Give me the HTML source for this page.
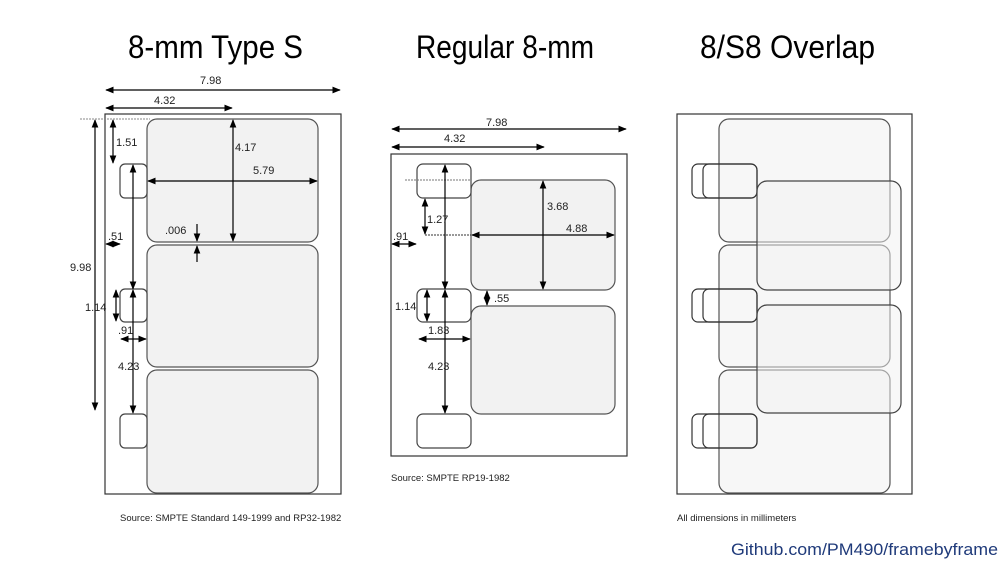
<!DOCTYPE html>
<html><head><meta charset="utf-8"><style>
html,body{margin:0;padding:0;background:#fff;}
svg{display:block;font-family:"Liberation Sans",sans-serif;}
</style></head><body>
<svg width="1000" height="562" viewBox="0 0 1000 562" xmlns="http://www.w3.org/2000/svg">
<defs>
<marker id="a" viewBox="0 0 10 10" refX="9" refY="5" markerWidth="7" markerHeight="7" orient="auto-start-reverse"><path d="M0,1 L10,5 L0,9 z" fill="#000"/></marker>
</defs>
<g font-size="32" fill="#000">
<text x="128" y="58" textLength="175" lengthAdjust="spacingAndGlyphs">8-mm Type S</text>
<text x="416" y="58" textLength="178" lengthAdjust="spacingAndGlyphs">Regular 8-mm</text>
<text x="700" y="58" textLength="175" lengthAdjust="spacingAndGlyphs">8/S8 Overlap</text>
</g>

<!-- Panel 1 -->
<rect x="105" y="114" width="236" height="380" fill="#fff" stroke="#333" stroke-width="1.2"/>
<g fill="#f2f2f2" stroke="#555" stroke-width="1.2">
<rect x="147" y="119" width="171" height="123" rx="10"/>
<rect x="147" y="245" width="171" height="122" rx="10"/>
<rect x="147" y="370" width="171" height="123" rx="10"/>
</g>
<g fill="#fff" stroke="#444" stroke-width="1.2">
<rect x="120" y="164" width="27" height="34" rx="5"/>
<rect x="120" y="289" width="27" height="33" rx="5"/>
<rect x="120" y="414" width="27" height="34" rx="5"/>
</g>
<line x1="80" y1="119" x2="150" y2="119" stroke="#888" stroke-dasharray="2,1"/>
<g stroke="#000" stroke-width="1.2" marker-start="url(#a)" marker-end="url(#a)">
<line x1="106" y1="90" x2="340" y2="90"/>
<line x1="106" y1="108" x2="232" y2="108"/>
<line x1="95" y1="120" x2="95" y2="410"/>
<line x1="113" y1="120" x2="113" y2="163"/>
<line x1="233" y1="120" x2="233" y2="241"/>
<line x1="148" y1="181" x2="317" y2="181"/>
<line x1="106" y1="244" x2="120" y2="244"/>
<line x1="116" y1="290" x2="116" y2="321"/>
<line x1="133" y1="165" x2="133" y2="289"/>
<line x1="133" y1="290" x2="133" y2="413"/>
<line x1="121" y1="339" x2="146" y2="339"/>
</g>
<g stroke="#000" stroke-width="1.2" marker-end="url(#a)">
<line x1="197" y1="224" x2="197" y2="241"/>
<line x1="197" y1="262" x2="197" y2="246"/>
</g>
<g font-size="11" fill="#222">
<text x="200" y="84">7.98</text>
<text x="154" y="104">4.32</text>
<text x="116" y="146">1.51</text>
<text x="235" y="151">4.17</text>
<text x="253" y="174">5.79</text>
<text x="165" y="234">.006</text>
<text x="108" y="240">.51</text>
<text x="70" y="271">9.98</text>
<text x="85" y="311">1.14</text>
<text x="118" y="334">.91</text>
<text x="118" y="370">4.23</text>
<text x="120" y="521" font-size="9.5">Source: SMPTE Standard 149-1999 and RP32-1982</text>
</g>

<!-- Panel 2 -->
<rect x="391" y="154" width="236" height="302" fill="#fff" stroke="#333" stroke-width="1.2"/>
<g fill="#f2f2f2" stroke="#555" stroke-width="1.2">
<rect x="471" y="180" width="144" height="110" rx="10"/>
<rect x="471" y="306" width="144" height="108" rx="10"/>
</g>
<g fill="#fff" stroke="#444" stroke-width="1.2">
<rect x="417" y="164" width="54" height="34" rx="6"/>
<rect x="417" y="289" width="54" height="33" rx="6"/>
<rect x="417" y="414" width="54" height="34" rx="6"/>
</g>
<line x1="405" y1="180" x2="471" y2="180" stroke="#777" stroke-dasharray="2,1"/>
<line x1="425" y1="235" x2="471" y2="235" stroke="#333" stroke-dasharray="2,1"/>
<g stroke="#000" stroke-width="1.2" marker-start="url(#a)" marker-end="url(#a)">
<line x1="392" y1="129" x2="626" y2="129"/>
<line x1="392" y1="147" x2="544" y2="147"/>
<line x1="425" y1="199" x2="425" y2="234"/>
<line x1="472" y1="235" x2="614" y2="235"/>
<line x1="543" y1="181" x2="543" y2="289"/>
<line x1="392" y1="244" x2="416" y2="244"/>
<line x1="445" y1="165" x2="445" y2="289"/>
<line x1="445" y1="290" x2="445" y2="413"/>
<line x1="427" y1="290" x2="427" y2="321"/>
<line x1="487" y1="291" x2="487" y2="305"/>
<line x1="419" y1="339" x2="470" y2="339"/>
</g>
<g font-size="11" fill="#222">
<text x="486" y="126">7.98</text>
<text x="444" y="142">4.32</text>
<text x="427" y="223">1.27</text>
<text x="547" y="210">3.68</text>
<text x="566" y="232">4.88</text>
<text x="393" y="240">.91</text>
<text x="494" y="302">.55</text>
<text x="395" y="310">1.14</text>
<text x="428" y="334">1.83</text>
<text x="428" y="370">4.23</text>
<text x="391" y="481" font-size="9.5">Source: SMPTE RP19-1982</text>
</g>

<!-- Panel 3 -->
<rect x="677" y="114" width="235" height="380" fill="#fff" stroke="#333" stroke-width="1.2"/>
<g fill="#f2f2f2" fill-opacity="0.6" stroke="#555" stroke-width="1.2">
<rect x="719" y="119" width="171" height="123" rx="10"/>
<rect x="719" y="245" width="171" height="122" rx="10"/>
<rect x="719" y="370" width="171" height="123" rx="10"/>
</g>
<g fill="#fff" fill-opacity="0" stroke="#333" stroke-width="1.2">
<rect x="692" y="164" width="65" height="34" rx="6"/>
<rect x="703" y="164" width="54" height="34" rx="6"/>
<rect x="692" y="289" width="65" height="33" rx="6"/>
<rect x="703" y="289" width="54" height="33" rx="6"/>
<rect x="692" y="414" width="65" height="34" rx="6"/>
<rect x="703" y="414" width="54" height="34" rx="6"/>
</g>
<g fill="#f2f2f2" fill-opacity="0.5" stroke="#444" stroke-width="1.2">
<rect x="757" y="181" width="144" height="109" rx="10"/>
<rect x="757" y="305" width="144" height="108" rx="10"/>
</g>
<text x="677" y="521" font-size="9.5" fill="#222">All dimensions in millimeters</text>
<text x="731" y="555" font-size="17" fill="#1f3a7a" textLength="267" lengthAdjust="spacingAndGlyphs">Github.com/PM490/framebyframe</text>
</svg>
</body></html>
